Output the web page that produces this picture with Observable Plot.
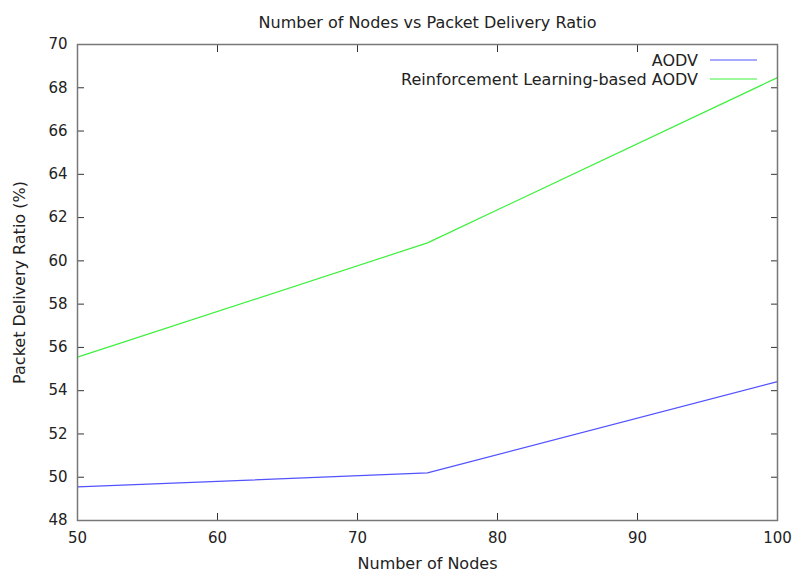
<!DOCTYPE html>
<html>
<head>
<meta charset="utf-8">
<script src="https://cdn.jsdelivr.net/npm/d3@7"></script>
<script src="https://cdn.jsdelivr.net/npm/@observablehq/plot@0.6"></script>
<style>
  html, body { margin: 0; padding: 0; background: #fff; }
  #chart svg { display: block; }
</style>
</head>
<body>
<div id="chart"></div>
<script>
const nodes = [50, 75, 100];
const aodv = [49.55, 50.2, 54.42];
const rlAodv = [55.55, 60.83, 68.47];
const seriesNames = ["AODV", "Reinforcement Learning-based AODV"];
const seriesColors = ["#5252ff", "#3cf03c"];
const xTicks = [50, 60, 70, 80, 90, 100];
const yTicks = [48, 50, 52, 54, 56, 58, 60, 62, 64, 66, 68, 70];

const rows = [];
nodes.forEach((n, i) => {
  rows.push({x: n, y: aodv[i], s: seriesNames[0]});
  rows.push({x: n, y: rlAodv[i], s: seriesNames[1]});
});

const font = "DejaVu Sans, sans-serif";
const frameColor = "#777";

const chart = Plot.plot({
  width: 795,
  height: 576,
  marginLeft: 77,
  marginRight: 18,
  marginTop: 44,
  marginBottom: 56,
  style: {fontFamily: font, fontSize: "15px", color: "#222", background: "#fff"},
  x: {domain: [50, 100], label: null},
  y: {domain: [48, 70], label: null},
  color: {domain: seriesNames, range: seriesColors},
  marks: [
    Plot.axisX(xTicks, {anchor: "bottom", tickSize: -7, stroke: "#333", tickFormat: () => "", label: null}),
    Plot.axisX(xTicks, {anchor: "top", tickSize: -7, stroke: "#333", tickFormat: () => "", label: null}),
    Plot.axisY(yTicks, {anchor: "left", tickSize: -7, stroke: "#333", tickFormat: () => "", label: null}),
    Plot.axisY(yTicks, {anchor: "right", tickSize: -7, stroke: "#333", tickFormat: () => "", label: null}),
    Plot.axisX(xTicks, {anchor: "bottom", tickSize: 0, tickPadding: 12, fontSize: 15, fill: "#222", label: null}),
    Plot.axisY(yTicks, {anchor: "left", tickSize: 0, tickPadding: 10, fontSize: 15, fill: "#222", label: null}),
    Plot.line(rows, {x: "x", y: "y", z: "s", stroke: "s", strokeWidth: 1.2}),
    Plot.frame({stroke: frameColor, strokeWidth: 1.5}),
    Plot.text(["Number of Nodes vs Packet Delivery Ratio"], {frameAnchor: "top", dy: -28, fontSize: 16, fill: "#222"}),
    Plot.text(["Number of Nodes"], {frameAnchor: "bottom", dy: 48, fontSize: 16, fill: "#222"}),
    Plot.text(["Packet Delivery Ratio (%)"], {frameAnchor: "left", dx: -58, rotate: -90, textAnchor: "middle", fontSize: 16, fill: "#222"})
  ]
});
document.getElementById("chart").appendChild(chart);

// legend rows, drawn inside the Plot SVG at the frame's top-right
const svg = d3.select(chart);
const frameRight = 795 - 18, frameTop = 44;
seriesNames.forEach((s, i) => {
  const y = frameTop + 16 + i * 19;
  svg.append("text").attr("x", frameRight - 79).attr("y", y).attr("dy", "0.35em")
    .attr("text-anchor", "end").attr("font-family", font).attr("font-size", 16).attr("fill", "#222").text(s);
  svg.append("line").attr("x1", frameRight - 67).attr("x2", frameRight - 20).attr("y1", y).attr("y2", y)
    .attr("stroke", seriesColors[i]).attr("stroke-width", 1.2);
});
</script>
</body>
</html>
